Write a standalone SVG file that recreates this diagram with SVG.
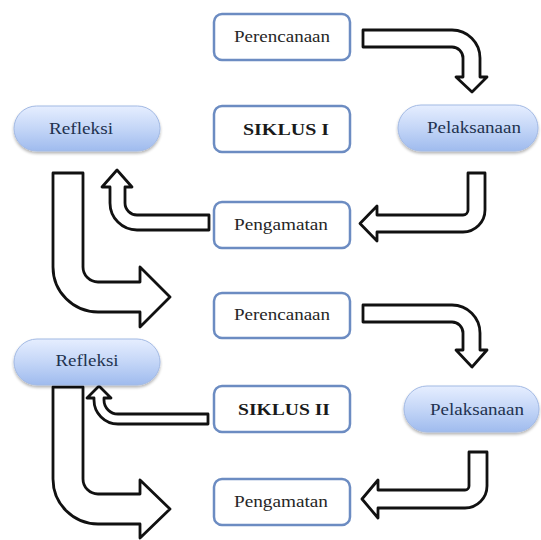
<svg xmlns="http://www.w3.org/2000/svg" width="541" height="540" viewBox="0 0 541 540">
<defs>
<linearGradient id="pillGrad" x1="0" y1="0" x2="0" y2="1">
<stop offset="0" stop-color="#e6eeff"/>
<stop offset="0.5" stop-color="#c4d6f7"/>
<stop offset="1" stop-color="#9fbbee"/>
</linearGradient>
<filter id="shadow" x="-10%" y="-20%" width="120%" height="150%">
<feGaussianBlur in="SourceAlpha" stdDeviation="1.5"/>
<feOffset dx="0" dy="2" result="b"/>
<feComponentTransfer><feFuncA type="linear" slope="0.3"/></feComponentTransfer>
<feMerge><feMergeNode/><feMergeNode in="SourceGraphic"/></feMerge>
</filter>
</defs>
<style>
.box{fill:#ffffff;stroke:#6c8cc2;stroke-width:2.5}
.pill{fill:url(#pillGrad);stroke:#a3bae4;stroke-width:1;filter:url(#shadow)}
.t{font-family:"Liberation Serif","Times New Roman",serif;font-size:16px;text-anchor:middle;fill:#262626}
.tb{font-family:"Liberation Serif","Times New Roman",serif;font-size:17px;font-weight:bold;text-anchor:middle;fill:#1a1a1a}
.tp{font-family:"Liberation Serif","Times New Roman",serif;font-size:16px;text-anchor:middle;fill:#22324f}
.arrow{fill:#ffffff;stroke:#111111;stroke-width:2.8;stroke-linejoin:round}
</style>
<rect width="541" height="540" fill="#ffffff"/>
<g id="connectors">
<path class="arrow" d="M363,30 H452 A28,28 0 0 1 480,58 V77 H487 L472,92 L456,77 H463 V58 A11,11 0 0 0 452,47 H363 Z"/>
<path class="arrow" d="M468,173 H485 V210 A22,22 0 0 1 463,232 H377 V241 L360,223.5 L377,206 V215 H463 A5,5 0 0 0 468,210 Z"/>
<path class="arrow" d="M209,215 H137 A12,12 0 0 1 125,203 V187 H132 L117,170 L102,187 H110 V203 A27,27 0 0 0 137,230 H209 Z"/>
<path class="arrow" d="M53,173 H83 V267 A15,15 0 0 0 98,282 H140 V267 L170,297 L140,327 V312 H98 A45,45 0 0 1 53,267 Z"/>
<path class="arrow" d="M363,305 H452 A28,28 0 0 1 480,333 V350 H487 L472,367 L456,350 H463 V333 A11,11 0 0 0 452,322 H363 Z"/>
<path class="arrow" d="M469,452 H487 V486 A22,22 0 0 1 465,508 H378 V518 L362,499 L378,480 V490 H465 A4,4 0 0 0 469,486 Z"/>
<path class="arrow" d="M208,414 H118 A14,14 0 0 1 104,400 V398 H111 L99,386 L87,398 H94 V400 A24,24 0 0 0 118,424 H208 Z"/>
<path class="arrow" d="M53,387 H83 V479 A15,15 0 0 0 98,494 H140 V480 L170,509 L140,538 V524 H98 A45,45 0 0 1 53,479 Z"/>
</g>
<g id="perencanaan1">
<rect class="box" x="214" y="14" width="136" height="46" rx="8"/>
<text class="t" x="282" y="42" textLength="96" lengthAdjust="spacingAndGlyphs">Perencanaan</text>
</g>
<g id="siklus1">
<rect class="box" x="214" y="106" width="136" height="46" rx="8"/>
<text class="tb" x="286" y="135" textLength="86" lengthAdjust="spacingAndGlyphs">SIKLUS I</text>
</g>
<g id="pengamatan1">
<rect class="box" x="214" y="202" width="136" height="46" rx="8"/>
<text class="t" x="281" y="230" textLength="94" lengthAdjust="spacingAndGlyphs">Pengamatan</text>
</g>
<g id="refleksi1">
<rect class="pill" x="14" y="106" width="146" height="45" rx="22.5"/>
<text class="tp" x="81" y="134" textLength="64" lengthAdjust="spacingAndGlyphs">Refleksi</text>
</g>
<g id="pelaksanaan1">
<rect class="pill" x="398" y="105" width="140" height="46" rx="23"/>
<text class="tp" x="474" y="133" textLength="94" lengthAdjust="spacingAndGlyphs">Pelaksanaan</text>
</g>
<g id="perencanaan2">
<rect class="box" x="214" y="293" width="136" height="45" rx="8"/>
<text class="t" x="282" y="320" textLength="96" lengthAdjust="spacingAndGlyphs">Perencanaan</text>
</g>
<g id="siklus2">
<rect class="box" x="214" y="386" width="136" height="46" rx="8"/>
<text class="tb" x="284" y="415" textLength="92" lengthAdjust="spacingAndGlyphs">SIKLUS II</text>
</g>
<g id="pengamatan2">
<rect class="box" x="214" y="479" width="136" height="46" rx="8"/>
<text class="t" x="281" y="507" textLength="94" lengthAdjust="spacingAndGlyphs">Pengamatan</text>
</g>
<g id="refleksi2">
<rect class="pill" x="14" y="339" width="146" height="46" rx="23"/>
<text class="tp" x="87" y="366" textLength="63" lengthAdjust="spacingAndGlyphs">Refleksi</text>
</g>
<g id="pelaksanaan2">
<rect class="pill" x="404" y="386" width="135" height="46" rx="23"/>
<text class="tp" x="477" y="415" textLength="94" lengthAdjust="spacingAndGlyphs">Pelaksanaan</text>
</g>
</svg>
